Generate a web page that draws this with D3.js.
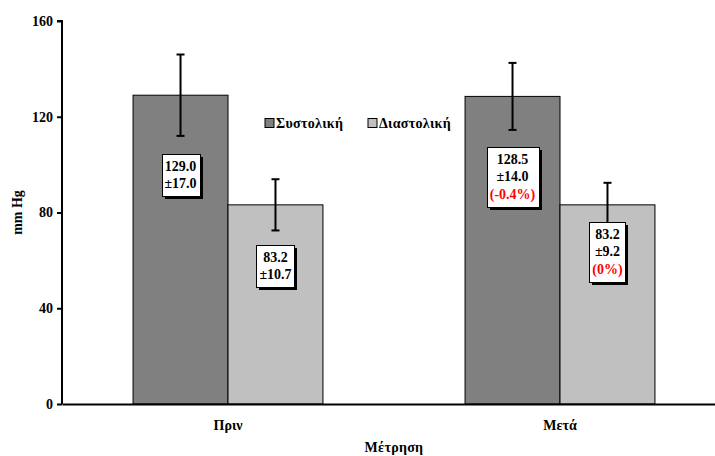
<!DOCTYPE html>
<html>
<head>
<meta charset="utf-8">
<script src="https://cdn.jsdelivr.net/npm/d3@7"></script>
<style>
  html, body { margin: 0; padding: 0; background: #fff; }
  svg { display: block; }
</style>
</head>
<body>
<script>
// ---- data ----
const categories = ["Πριν", "Μετά"];
const seriesNames = ["Συστολική", "Διαστολική"];
const systolic = [129.0, 128.5];
const systolicSD = [17.0, 14.0];
const diastolic = [83.2, 83.2];
const diastolicSD = [10.7, 9.2];
const changeLabels = [[null, null], ["(-0.4%)", "(0%)"]]; // [category][series]
const labelCenters = [[95.5, 57.5], [95, 63.5]]; // label box centre, in data units
const yTicks = [0, 40, 80, 120, 160];
const yTitle = "mm Hg";
const xTitle = "Μέτρηση";
const colors = ["#808080", "#c0c0c0"];

const FONT = "'Liberation Serif', 'Times New Roman', serif";
const FS = 14;
const W = 715, H = 456;
const margin = { left: 62, right: -11, top: 21, bottom: 52 };

const svg = d3.select("body").append("svg").attr("width", W).attr("height", H)
  .attr("font-family", FONT).attr("font-weight", "bold");

const x0 = d3.scaleBand().domain(categories)
  .range([margin.left, W - margin.right])
  .paddingInner(0.428).paddingOuter(0.214);
const x1 = d3.scaleBand().domain(seriesNames).range([0, x0.bandwidth()]).padding(0);
const y = d3.scaleLinear().domain([0, 160]).range([H - margin.bottom, margin.top]);

const rows = [];
categories.forEach((c, i) => {
  rows.push({ cat: c, s: seriesNames[0], v: systolic[i], sd: systolicSD[i], si: 0, ci: i });
  rows.push({ cat: c, s: seriesNames[1], v: diastolic[i], sd: diastolicSD[i], si: 1, ci: i });
});

function txt(sel) {
  return sel.attr("font-family", FONT).attr("font-weight", "bold").attr("font-size", FS).attr("fill", "#000");
}

// bars
svg.append("g").selectAll("rect").data(rows).join("rect")
  .attr("x", d => x0(d.cat) + x1(d.s))
  .attr("y", d => y(d.v))
  .attr("width", x1.bandwidth())
  .attr("height", d => y(0) - y(d.v))
  .attr("fill", d => colors[d.si])
  .attr("stroke", "#000").attr("stroke-width", 1);

// error bars
const eb = svg.append("g").attr("stroke", "#000").attr("stroke-width", 2);
rows.forEach(d => {
  const cx = x0(d.cat) + x1(d.s) + x1.bandwidth() / 2;
  eb.append("line").attr("x1", cx).attr("x2", cx).attr("y1", y(d.v + d.sd)).attr("y2", y(d.v - d.sd));
  eb.append("line").attr("x1", cx - 4).attr("x2", cx + 4).attr("y1", y(d.v + d.sd)).attr("y2", y(d.v + d.sd));
  eb.append("line").attr("x1", cx - 4).attr("x2", cx + 4).attr("y1", y(d.v - d.sd)).attr("y2", y(d.v - d.sd));
});

// axes
const yAxis = d3.axisLeft(y).tickValues(yTicks).tickSize(5).tickPadding(4).tickFormat(d3.format("d"));
const gy = svg.append("g").attr("transform", `translate(${margin.left},0)`).call(yAxis)
  .attr("font-family", FONT).attr("font-size", FS);
gy.select(".domain").attr("stroke", "#000").attr("stroke-width", 2).attr("d", `M-5,${y(160)}H0V${y(0)}`);
gy.selectAll(".tick line").attr("stroke", "#000").attr("stroke-width", 2);
txt(gy.selectAll(".tick text"));

const xAxis = d3.axisBottom(x0).tickSize(0).tickPadding(16);
const gx = svg.append("g").attr("transform", `translate(0,${y(0)})`).call(xAxis)
  .attr("font-family", FONT).attr("font-size", FS);
gx.select(".domain").attr("stroke", "#000").attr("stroke-width", 2);
txt(gx.selectAll(".tick text"));

// axis titles
txt(svg.append("text")).attr("transform", `translate(22,${(y(0) + y(160)) / 2}) rotate(-90)`)
  .attr("text-anchor", "middle").text(yTitle);
txt(svg.append("text")).attr("x", (margin.left + W - margin.right) / 2).attr("y", 452)
  .attr("text-anchor", "middle").attr("letter-spacing", 0.3).text(xTitle);

// legend
const leg = svg.append("g");
const legX = [265, 368];
seriesNames.forEach((s, i) => {
  leg.append("rect").attr("x", legX[i]).attr("y", 118.5).attr("width", 9).attr("height", 9)
    .attr("fill", colors[i]).attr("stroke", "#000").attr("stroke-width", 1);
  txt(leg.append("text")).attr("x", legX[i] + 11).attr("y", 128).attr("letter-spacing", 0.3).text(s);
});

// value label boxes
const lbl = svg.append("g");
rows.forEach(d => {
  const lines = [
    { t: d.v.toFixed(1), c: "#000" },
    { t: "±" + d.sd.toFixed(1), c: "#000" }
  ];
  const ch = changeLabels[d.ci][d.si];
  if (ch) lines.push({ t: ch, c: "#ff0000" });
  const cx = x0(d.cat) + x1(d.s) + x1.bandwidth() / 2;
  const cy = y(labelCenters[d.ci][d.si]);
  const g = lbl.append("g");
  const texts = lines.map((l, k) => txt(g.append("text")).attr("x", cx)
    .attr("text-anchor", "middle").attr("fill", l.c).text(l.t));
  const wmax = d3.max(texts, t => t.node().getComputedTextLength());
  const bw = Math.round(wmax + 6), lh = 17.5;
  const bh = Math.round(lines.length * lh + 7);
  const bx = Math.round(cx - bw / 2), by = Math.round(cy - bh / 2);
  g.insert("rect", "text").attr("x", bx + 3).attr("y", by + 3).attr("width", bw).attr("height", bh).attr("fill", "#000");
  g.insert("rect", "text").attr("x", bx + 0.5).attr("y", by + 0.5).attr("width", bw).attr("height", bh)
    .attr("fill", "#fff").attr("stroke", "#000").attr("stroke-width", 1);
  texts.forEach((t, k) => t.attr("y", by + 16.5 + k * lh));
});
</script>
</body>
</html>
